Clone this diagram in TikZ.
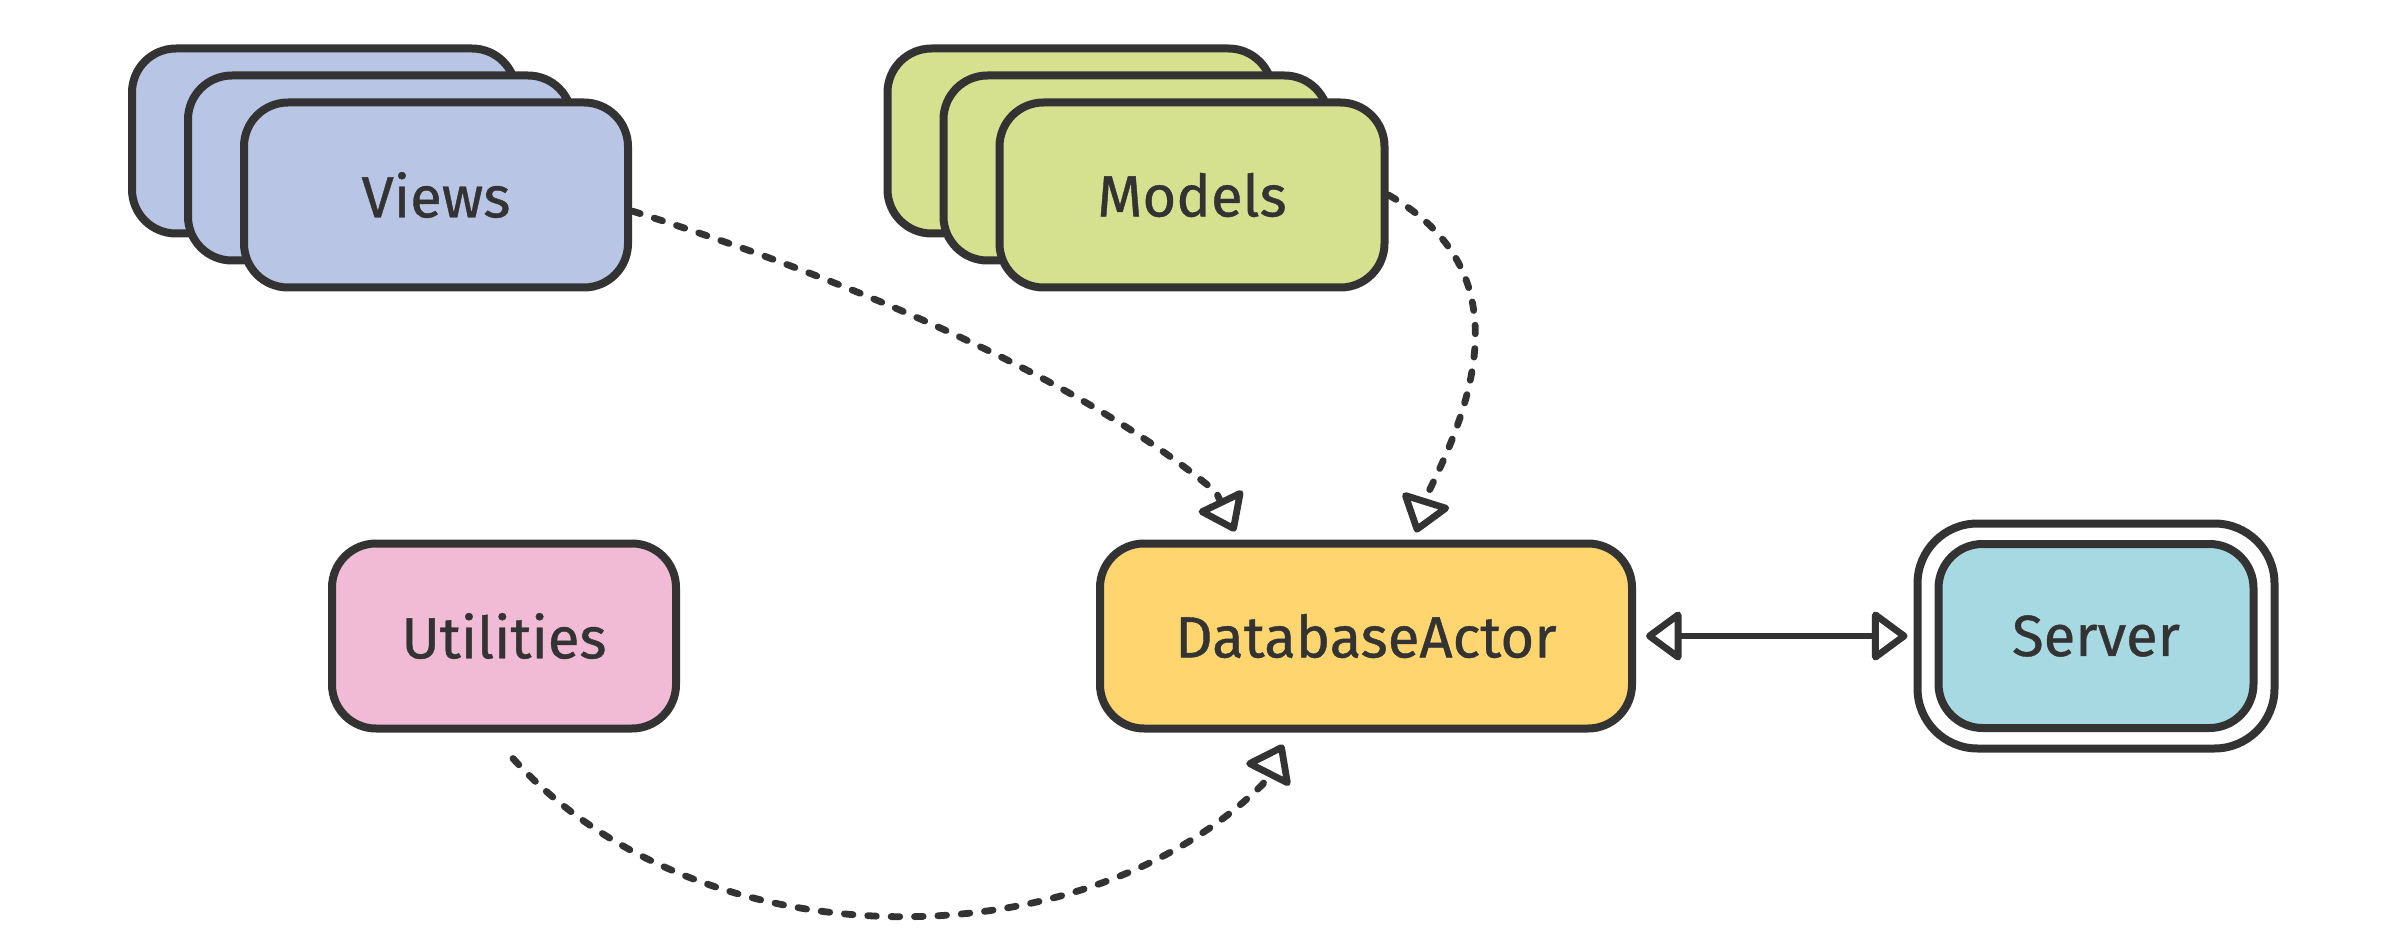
\documentclass[tikz,border=0pt]{standalone}
\usepackage{fontspec}
\setmainfont{Fira Sans}[FakeBold=0.7]
\usetikzlibrary{arrows.meta}
\definecolor{ink}{HTML}{333333}
\definecolor{viewsfill}{HTML}{B8C5E4}
\definecolor{modelsfill}{HTML}{D5E18F}
\definecolor{utilfill}{HTML}{F1BBD5}
\definecolor{dbfill}{HTML}{FFD56F}
\definecolor{serverfill}{HTML}{A7D9E2}
\begin{document}
\begin{tikzpicture}[x=0.5pt,y=-0.5pt,
  box/.style={draw=ink, line width=4pt, rounded corners=22pt, inner sep=0pt,
    minimum height=92.5pt, text=ink, font=\fontsize{29}{34}\selectfont},
  dep/.style={draw=ink, line width=3.4pt, dash pattern=on 4.3pt off 7.4pt, line cap=round,
    -{Triangle[open,length=19pt,width=27pt,round]}},
  link/.style={draw=ink, line width=3.4pt,
    {Triangle[open,length=19pt,width=27pt,round]}-{Triangle[open,length=19pt,width=27pt,round]}}
]
\path[use as bounding box] (0,0) rectangle (2400,952);

% Views stack
\node[box, fill=viewsfill, minimum width=192pt] (v3) at (324,141) {};
\node[box, fill=viewsfill, minimum width=192pt] (v2) at (380,168) {};
\node[box, fill=viewsfill, minimum width=192pt] (views) at (436,195) {Views};

% Models stack
\node[box, fill=modelsfill, minimum width=192.5pt] (m3) at (1080,141) {};
\node[box, fill=modelsfill, minimum width=192.5pt] (m2) at (1136,168) {};
\node[box, fill=modelsfill, minimum width=192.5pt] (models) at (1192,195) {Models};

% Utilities
\node[box, fill=utilfill, minimum width=172pt] (util) at (504,636) {Utilities};

% DatabaseActor
\node[box, fill=dbfill, minimum width=266pt] (db) at (1366,636) {DatabaseActor};

% Server (double border)
\node[box, fill=white, minimum width=178.5pt, minimum height=112.5pt, rounded corners=30pt] (srvout) at (2096,636) {};
\node[box, fill=serverfill, minimum width=157.5pt, minimum height=92pt] (server) at (2096,636) {Server};

% connector end points
\coordinate (vbase) at (1216,492);
\coordinate (vtip) at ([xshift=-65.5pt,yshift=4pt]db.north);
\coordinate (mbase) at (1429,491);
\coordinate (mtip) at ([xshift=25pt,yshift=3.5pt]db.north);
\coordinate (ubase) at (1263,784);
\coordinate (utip) at ([xshift=-41.5pt,yshift=-6pt]db.south);

% Views -> DatabaseActor
\draw[dep] ([yshift=-8pt]views.east) .. controls (850,280) and (1080,378) .. (vbase) -- (vtip);
% Models -> DatabaseActor
\draw[dep] (models.east) .. controls (1520,270) and (1475,398) .. (mbase) -- (mtip);
% Utilities -> DatabaseActor
\draw[dep] ([xshift=4.5pt,yshift=-13pt]util.south) .. controls (700,965) and (1080,965) .. (ubase) -- (utip);
% DatabaseActor <-> Server
\draw[link] ([xshift=5pt]db.east) -- ([xshift=-3pt]srvout.west);
\end{tikzpicture}
\end{document}
